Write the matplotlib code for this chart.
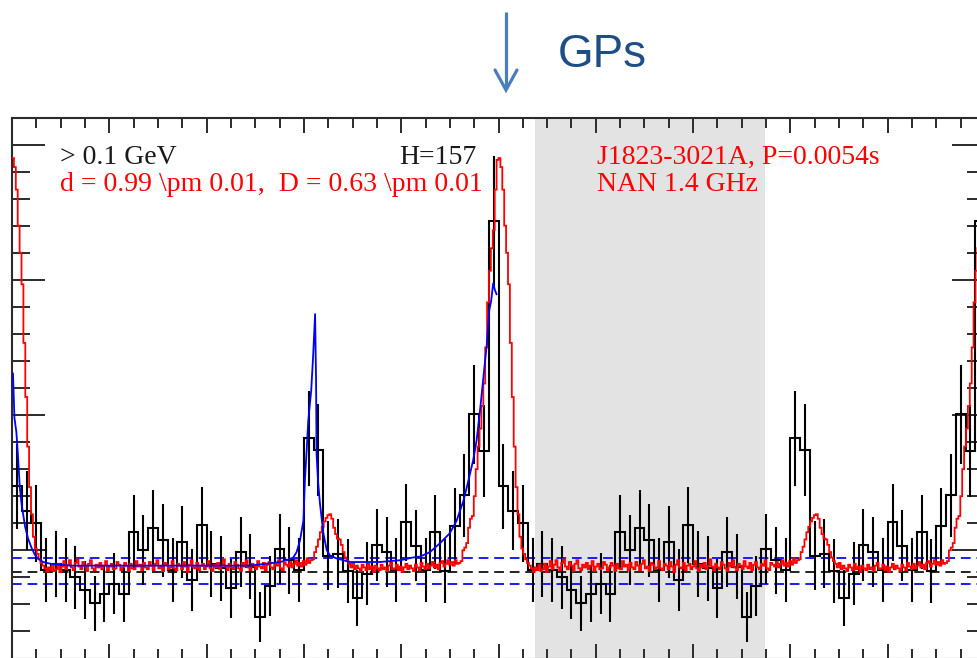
import numpy as np
import matplotlib
matplotlib.use("Agg")
import matplotlib.pyplot as plt
from matplotlib.lines import Line2D
from matplotlib.ticker import MultipleLocator, NullFormatter

# Gamma-ray counts (> 0.1 GeV) in 50 phase bins over one rotation
gamma_counts = [22.1, 19.4, 18.0, 12.8, 13.5, 12.8, 12.0, 10.6, 9.1, 10.2,
                11.3, 10.2, 17.0, 15.0, 17.5, 16.1, 12.8, 15.9, 11.7, 17.8,
                13.5, 13.0, 10.8, 14.8, 13.2, 7.6, 11.0, 15.1, 13.9, 12.8,
                27.4, 26.1, 14.4, 14.6, 12.7, 9.7, 12.4, 15.6, 14.8, 12.8,
                18.1, 15.5, 12.8, 17.0, 12.7, 17.7, 21.1, 30.1, 26.0, 51.5]

# Nancay 1.4 GHz radio profile, 256 phase bins, scaled to the gamma counts
radio_profile = [
    58.5, 57.5, 55.0, 51.0, 48.0, 44.5, 38.0, 32.0, 26.5, 22.0,
    19.0, 16.5, 15.2, 14.6, 14.0, 13.6,
    13.3, 13.0, 12.6, 13.1, 12.8, 13.4, 12.7, 12.9, 13.5, 12.6,
    13.2, 13.8, 12.9, 13.4, 13.9, 13.1, 12.8, 13.6, 14.0, 13.2,
    12.9, 13.7, 13.3, 12.7, 13.5, 13.9, 13.0, 12.8, 13.4, 13.1,
    13.6, 12.9, 13.3, 13.8, 12.7, 13.2, 13.5, 12.9, 13.0, 13.7,
    13.4, 12.8, 13.1, 13.6, 13.3, 12.7, 13.5, 13.0, 12.9, 13.8,
    13.2, 13.4, 12.8, 13.6, 13.1, 12.9, 13.7, 13.3, 12.8, 13.5,
    13.9, 13.0, 13.2, 12.7, 13.6, 13.4, 12.9, 13.1, 13.8, 13.0,
    12.8, 13.5, 13.3, 12.9, 13.7, 13.2, 12.6, 13.4, 13.9, 13.1,
    13.0, 13.6, 12.8, 13.3, 13.5, 12.9, 13.2, 13.8, 13.0, 12.7,
    13.4, 13.1, 13.6, 12.9, 13.3, 14.0, 13.2, 12.8, 13.5, 13.1,
    12.9, 13.7, 13.4, 13.0, 12.7, 13.6, 13.2, 13.9, 13.1, 12.8,
    13.5, 13.3, 12.9, 13.8, 13.2, 13.0, 13.6, 12.8, 13.4, 13.7,
    13.1, 12.9, 13.5, 13.3, 13.9, 13.0, 12.8, 13.6, 13.4, 13.2,
    13.7, 13.1, 13.5, 13.9, 13.3, 13.6, 13.2, 13.8, 13.4, 14.1,
    13.6, 13.9,
    14.0, 14.8, 15.4, 16.2, 17.0, 17.6, 18.2, 18.6, 18.9, 19.0,
    18.5, 17.5, 16.8, 16.3, 16.2, 15.6, 14.8, 14.2, 13.8,
    13.5, 13.1, 13.6, 12.9, 13.3, 13.0, 12.7, 13.4, 13.1, 12.8,
    13.5, 12.9, 13.2, 12.6, 13.3, 13.0, 12.8, 13.4, 12.9, 13.1,
    12.7, 13.3, 13.6, 12.9, 13.0, 13.4, 12.8, 13.2, 12.6, 13.1,
    13.5, 12.9, 13.3, 13.0, 12.7, 13.4, 13.1, 12.8, 13.6, 13.2,
    12.9, 13.5, 13.0, 13.3, 13.7, 13.1, 13.4, 12.9, 13.6, 13.8,
    13.2, 13.5, 13.9, 13.4, 13.7, 13.3, 13.9, 13.5, 13.6,
    13.8, 15.0, 15.3, 15.8, 17.5, 18.5, 18.8, 21.0, 24.0, 26.5,
    28.5, 31.0, 33.5, 37.5, 42.5, 46.0, 48.5, 50.5, 55.0, 58.3,
]

# Two-peak light-curve model over the first rotation
model_phase = [0.002, 0.005, 0.009, 0.012, 0.016, 0.020, 0.027, 0.033, 0.040,
               0.047, 0.053, 0.064, 0.080, 0.119, 0.284, 0.489, 0.551, 0.565,
               0.578, 0.585, 0.592, 0.599, 0.602, 0.606, 0.609, 0.615, 0.619,
               0.623, 0.625, 0.626, 0.629, 0.633, 0.640, 0.647, 0.654, 0.667,
               0.695, 0.756, 0.798, 0.824, 0.839, 0.859, 0.880, 0.900, 0.914,
               0.928, 0.938, 0.948, 0.955, 0.962, 0.969, 0.976, 0.981, 0.985,
               0.989, 0.993, 0.996]
model_counts = [34.6, 29.7, 28.1, 25.7, 22.0, 20.0, 17.6, 16.3, 15.3,
                14.5, 14.1, 13.7, 13.5, 13.3, 13.3, 13.3, 13.7, 13.9,
                14.2, 14.8, 16.1, 18.3, 22.7, 26.4, 29.4, 32.7, 36.6,
                41.2, 33.8, 25.7, 22.7, 20.2, 16.9, 15.0, 14.4, 14.1,
                13.7, 13.7, 13.9, 14.2, 14.3, 14.8, 15.8, 16.9, 18.3,
                20.5, 22.7, 25.0, 27.2, 30.5, 34.2, 37.9, 41.6, 42.7,
                44.6, 43.8, 43.4]

# Background level and its uncertainty band
bkg_level = 12.6
bkg_band = [11.3, 14.15]

# Off-pulse phase window
offpulse = [1.075, 1.548]

W, H = 977, 658
fig = plt.figure(figsize=(W / 100, H / 100), dpi=100)
ax = fig.add_axes([12 / W, -0.5 / H, 973 / W, 541 / H])
ax.set_xlim(0, 2)
ax.set_ylim(3, 63)

ax.axvspan(offpulse[0], offpulse[1], color="#e3e3e3", lw=0, zorder=0)

dash = (5, 3)
ax.axhline(bkg_level, color="#222222", lw=1.4, ls=(0, dash), zorder=2)
for lvl in bkg_band:
    ax.axhline(lvl, color="#1a1aff", lw=1.4, ls=(0, dash), zorder=2)

edges = np.linspace(0, 2, 2 * len(gamma_counts) + 1)
centers = 0.5 * (edges[:-1] + edges[1:])
counts2 = np.tile(gamma_counts, 2)
ax.stairs(counts2, edges, baseline=None, color="black", lw=1.5, zorder=3)
ax.errorbar(centers, counts2, yerr=np.sqrt(counts2), fmt="none",
            ecolor="black", elinewidth=1.5, capsize=0, zorder=3)

radio2 = np.tile(radio_profile, 2)
r_edges = np.linspace(0, 2, len(radio2) + 1)
ax.stairs(radio2, r_edges, baseline=None, color="#ff0000", lw=1.3, zorder=4)

ax.plot(model_phase, model_counts, color="#0000ff", lw=1.3, zorder=5)

# Axis frame and ticks
for s in ax.spines.values():
    s.set_linewidth(1.5)
    s.set_color("#2b2b2b")
ax.xaxis.set_major_locator(MultipleLocator(0.2))
ax.xaxis.set_minor_locator(MultipleLocator(0.05))
ax.yaxis.set_major_locator(MultipleLocator(15))
ax.yaxis.set_minor_locator(MultipleLocator(3))
ax.tick_params(axis="x", which="both", direction="in", top=True, bottom=True,
               labelbottom=False, colors="#2b2b2b", width=1.4)
ax.tick_params(axis="x", which="major", length=10.8)
ax.tick_params(axis="x", which="minor", length=7.2)
ax.tick_params(axis="y", which="both", direction="in", left=True, right=True,
               labelleft=False, colors="#2b2b2b", width=1.4)
ax.tick_params(axis="y", which="major", length=23.8)
ax.tick_params(axis="y", which="minor", length=13)
ax.xaxis.set_major_formatter(NullFormatter())
ax.yaxis.set_major_formatter(NullFormatter())

serif = ["Liberation Serif", "DejaVu Serif"]
fs = 20
ax.text(0.0987, 57.8, "> 0.1 GeV", color="#1a1a1a", fontsize=fs, family=serif,
        va="baseline", ha="left", zorder=6)
ax.text(0.0987, 54.8, r"d = 0.99 \pm 0.01,  D = 0.63 \pm 0.01", color="#ff0000",
        fontsize=fs, family=serif, va="baseline", ha="left", zorder=6)
ax.text(0.955, 57.8, "H=157", color="#1a1a1a", fontsize=fs, family=serif,
        va="baseline", ha="right", zorder=6)
ax.text(1.2019, 57.8, "J1823-3021A, P=0.0054s", color="#ff0000", fontsize=fs,
        family=serif, va="baseline", ha="left", zorder=6)
ax.text(1.2019, 54.8, "NAN 1.4 GHz", color="#ff0000", fontsize=fs,
        family=serif, va="baseline", ha="left", zorder=6)

# Annotation above the frame
def fpx(x, y):
    return x / W, (H - y) / H

arrow_col = "#4a7ebb"
sx, sy = zip(fpx(506, 12), fpx(506, 89))
fig.add_artist(Line2D(sx, sy, transform=fig.transFigure, color=arrow_col,
                      lw=2.3, solid_capstyle="butt"))
hx, hy = zip(fpx(495, 70), fpx(506, 90), fpx(517, 70))
fig.add_artist(Line2D(hx, hy, transform=fig.transFigure, color=arrow_col,
                      lw=2.3, solid_capstyle="round", solid_joinstyle="miter"))
gx, gy = fpx(558, 67)
fig.text(gx, gy, "GPs", color="#1f4e87", fontsize=33,
         family=["Liberation Sans", "DejaVu Sans"], ha="left", va="baseline")

fig.savefig("out.png", dpi=100)
